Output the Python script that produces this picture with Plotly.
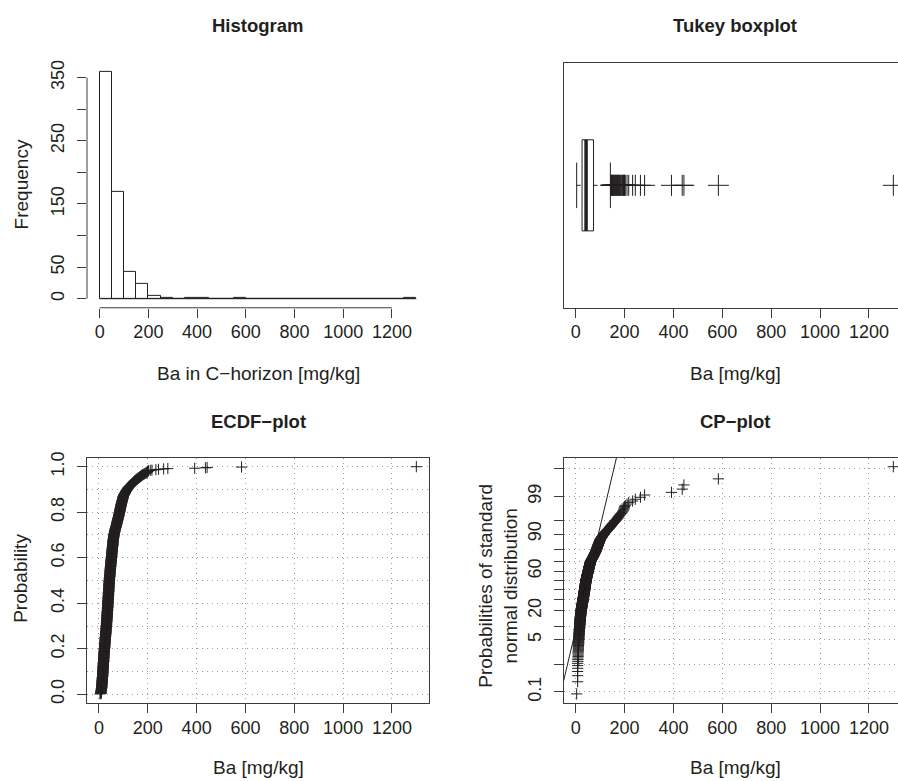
import numpy as np
import plotly.graph_objects as go
from statistics import NormalDist

# ---------------- data (Ba in C-horizon, mg/kg) ----------------
ba_levels = [4, 8, 9, 10,
             11, 12, 13, 14, 15, 16, 17, 18, 19, 20,
             21, 22, 23, 24, 25, 26, 27, 28, 29, 30,
             31, 32, 33, 34, 35, 36, 37, 38, 39, 40,
             41, 42, 43, 44, 45, 46, 47, 48, 49, 50,
             51, 52, 53, 54, 55, 56, 57, 58, 59, 60,
             61, 62, 63, 64, 65, 66, 67, 68, 69, 70,
             71, 72, 73, 74, 75, 76, 77, 78, 79, 80,
             81, 82, 83, 84, 85, 86, 87, 88, 89, 90,
             91, 92, 93, 94, 95, 96, 97, 98, 99, 100]
ba_counts = [1, 6, 3, 5,
             7, 8, 8, 8, 9, 10, 10, 10, 10, 10,
             8, 8, 8, 8, 8, 8, 7, 8, 7, 8,
             9, 9, 10, 9, 10, 10, 11, 10, 11, 11,
             10, 10, 8, 7, 7, 7, 7, 7, 7, 6,
             7, 7, 6, 7, 6, 6, 6, 6, 5, 5,
             4, 3, 3, 3, 3, 2, 3, 2, 2, 2,
             3, 3, 2, 3, 3, 2, 3, 2, 3, 2,
             3, 3, 3, 3, 3, 3, 3, 3, 3, 3,
             3, 2, 3, 2, 3, 2, 3, 2, 3, 2]
ba_tail = [101, 102, 103, 103, 104, 105, 106, 107, 108, 108, 109, 110, 111, 112, 113,
           114, 115, 116, 117, 118, 119, 120,
           121, 123, 124, 126, 127, 129, 130, 132, 133, 135, 136, 138, 139, 141, 142,
           144, 145, 147, 148, 150,
           152, 154, 156, 158, 160, 162, 164, 166, 168, 170, 172, 174, 176, 178, 180,
           183, 186, 189, 192, 194, 196, 198, 199, 200,
           203, 210, 217, 233, 244,
           265, 282,
           392, 436, 443, 584, 1300]

hist_break_width = 50
x_ticks = [0, 200, 400, 600, 800, 1000, 1200]
hist_y_ticks = [0, 50, 100, 150, 200, 250, 300, 350]
hist_y_labels = ["0", "50", "", "150", "", "250", "", "350"]
ecdf_y_ticks = [0.0, 0.2, 0.4, 0.6, 0.8, 1.0]
ecdf_y_labels = ["0.0", "0.2", "0.4", "0.6", "0.8", "1.0"]
ecdf_y_minor = [0.1, 0.3, 0.5, 0.7, 0.9]
cp_tick_pct = [0.1, 1, 5, 10, 20, 30, 40, 50, 60, 70, 80, 90, 95, 99, 99.9]
cp_tick_labels = ["0.1", "", "5", "", "20", "", "", "", "60", "", "", "90", "", "99", ""]
cp_line_center = 48.0
cp_line_scale = 35.0

# ---------------- derived ----------------
ba = np.sort(np.concatenate([np.repeat(ba_levels, ba_counts), ba_tail]).astype(float))
n = len(ba)
nd = NormalDist()

breaks = np.arange(0, ba.max() + hist_break_width, hist_break_width)
hist_counts = []
for i in range(len(breaks) - 1):
    lo, hi = breaks[i], breaks[i + 1]
    if i == 0:
        hist_counts.append(int(np.sum((ba >= lo) & (ba <= hi))))
    else:
        hist_counts.append(int(np.sum((ba > lo) & (ba <= hi))))
hist_counts = np.array(hist_counts)
centers = (breaks[:-1] + breaks[1:]) / 2

def ext(lo, hi, f=0.04):
    d = (hi - lo) * f
    return [lo - d, hi + d]

# fivenum (Tukey hinges)
n4 = np.floor((n + 3) / 2) / 2
dpos = [1, n4, (n + 1) / 2, n + 1 - n4, n]
fiv = [0.5 * (ba[int(np.floor(d)) - 1] + ba[int(np.ceil(d)) - 1]) for d in dpos]
q1, med, q3 = fiv[1], fiv[2], fiv[3]
iqr = q3 - q1
inside = ba[(ba >= q1 - 1.5 * iqr) & (ba <= q3 + 1.5 * iqr)]
wlo, whi = inside.min(), inside.max()
outl = ba[(ba < q1 - 1.5 * iqr) | (ba > q3 + 1.5 * iqr)]

ecdf_y = np.arange(1, n + 1) / n
pp = (np.arange(1, n + 1) - 0.5) / n
cp_q = np.array([nd.inv_cdf(p) for p in pp])
cp_tick_q = [nd.inv_cdf(p / 100) for p in cp_tick_pct]

# ---------------- layout geometry ----------------
W, H = 898, 781
def px(x):
    return x / W
def py(y):
    return 1 - y / H

ink = "#231f20"
axc = "#3c3c3c"
gridc = "#9a9a9a"
FONT = "Liberation Sans, Arial, Helvetica, sans-serif"
tickfont = dict(family=FONT, size=18, color=ink)

xr_data = ext(ba.min(), ba.max())
left_px, right_px_full = 564.0, 906.0
right_visible = W
xr_right = [xr_data[0], xr_data[0] + (right_visible - left_px) / (right_px_full - left_px) * (xr_data[1] - xr_data[0])]

fig = go.Figure()

# Histogram
fig.add_trace(go.Bar(x=centers, y=hist_counts, width=hist_break_width,
                     marker=dict(color="white", line=dict(color=ink, width=1)),
                     xaxis="x", yaxis="y", showlegend=False))
fig.add_trace(go.Scatter(x=[breaks[0], breaks[-1]], y=[0, 0], mode="lines",
                         line=dict(color=ink, width=1), xaxis="x", yaxis="y", showlegend=False))

# Boxplot
bw, cw = 0.186, 0.093
fig.add_trace(go.Scatter(x=[q1, q3, q3, q1, q1], y=[1 - bw, 1 - bw, 1 + bw, 1 + bw, 1 - bw],
                         mode="lines", line=dict(color=ink, width=1), xaxis="x2", yaxis="y2", showlegend=False))
fig.add_trace(go.Scatter(x=[med, med], y=[1 - bw, 1 + bw], mode="lines",
                         line=dict(color=ink, width=3.5), xaxis="x2", yaxis="y2", showlegend=False))
fig.add_trace(go.Scatter(x=[wlo, q1, None, q3, whi], y=[1, 1, None, 1, 1], mode="lines",
                         line=dict(color=ink, width=1, dash="4px,3px"), xaxis="x2", yaxis="y2", showlegend=False))
fig.add_trace(go.Scatter(x=[wlo, wlo, None, whi, whi], y=[1 - cw, 1 + cw, None, 1 - cw, 1 + cw], mode="lines",
                         line=dict(color=ink, width=1), xaxis="x2", yaxis="y2", showlegend=False))
fig.add_trace(go.Scatter(x=outl, y=np.ones(len(outl)), mode="markers",
                         marker=dict(symbol="cross-thin", size=15, line=dict(color=ink, width=1)),
                         xaxis="x2", yaxis="y2", showlegend=False))

# ECDF
fig.add_trace(go.Scatter(x=ba, y=ecdf_y, mode="markers",
                         marker=dict(symbol="cross-thin", size=8, line=dict(color=ink, width=1)),
                         xaxis="x3", yaxis="y3", showlegend=False))

# CP plot
qr = ext(cp_q.min(), cp_q.max())
lq = np.array([-5.0, 5.0])
fig.add_trace(go.Scatter(x=cp_line_center + lq * cp_line_scale, y=lq, mode="lines",
                         line=dict(color=ink, width=1), xaxis="x4", yaxis="y4", showlegend=False))
fig.add_trace(go.Scatter(x=ba, y=cp_q, mode="markers",
                         marker=dict(symbol="cross-thin", size=8, line=dict(color=ink, width=1)),
                         xaxis="x4", yaxis="y4", showlegend=False))

top_dom = [py(304.5), py(57.4)]
bot_dom = [py(703.3), py(455.7)]

common_x = dict(tickvals=x_ticks, ticktext=[str(v) for v in x_ticks], ticks="outside", ticklen=9,
                tickcolor=axc, tickfont=tickfont, zeroline=False, showgrid=False, ticklabelstandoff=-1)
common_y = dict(ticks="outside", ticklen=9, tickcolor=axc, tickfont=tickfont, zeroline=False,
                showgrid=False, tickangle=-90, ticklabelstandoff=6)
gridkw = dict(showgrid=True, gridcolor=gridc, griddash="1px,4px", gridwidth=1)

fig.update_layout(
    width=W, height=H, margin=dict(l=0, r=0, t=0, b=0),
    paper_bgcolor="white", plot_bgcolor="rgba(0,0,0,0)",
    bargap=0,
    xaxis=dict(domain=[px(87.0), px(429.0)], range=ext(breaks[0], breaks[-1]), anchor="y", showline=False, **common_x),
    yaxis=dict(domain=top_dom, range=ext(0, hist_counts.max()), anchor="x", showline=False,
               tickvals=hist_y_ticks, ticktext=hist_y_labels, **common_y),
    xaxis2=dict(domain=[px(left_px), 1.0], range=xr_right, anchor="y2", showline=True, mirror=True,
                linecolor=axc, linewidth=1, **common_x),
    yaxis2=dict(domain=top_dom, range=[0.5, 1.5], anchor="x2", showline=True, mirror=False, linecolor=axc,
                linewidth=1, showticklabels=False, ticks="", zeroline=False, showgrid=False),
    xaxis3=dict(domain=[px(87.3), px(429.0)], range=xr_data, anchor="y3", showline=True, mirror=True,
                linecolor=axc, linewidth=1, **{**common_x, **gridkw}),
    yaxis3=dict(domain=bot_dom, range=ext(ecdf_y.min(), ecdf_y.max()), anchor="x3", showline=True, mirror=True,
                linecolor=axc, linewidth=1, tickvals=ecdf_y_ticks, ticktext=ecdf_y_labels,
                minor=dict(tickvals=ecdf_y_minor, showgrid=True, gridcolor=gridc, griddash="1px,4px", ticks=""),
                **{**common_y, **gridkw}),
    xaxis4=dict(domain=[px(left_px), 1.0], range=xr_right, anchor="y4", showline=True, mirror=True,
                linecolor=axc, linewidth=1, **{**common_x, **gridkw}),
    yaxis4=dict(domain=bot_dom, range=qr, anchor="x4", showline=True, mirror=False,
                linecolor=axc, linewidth=1, tickvals=cp_tick_q, ticktext=cp_tick_labels,
                **{**common_y, **gridkw}),
)

# histogram axis lines spanning only the tick range
fig.add_shape(type="line", xref="x", yref="y domain", x0=min(x_ticks), x1=max(x_ticks), y0=0, y1=0,
              line=dict(color=axc, width=1))
fig.add_shape(type="line", xref="x domain", yref="y", x0=0, x1=0, y0=min(hist_y_ticks), y1=max(hist_y_ticks),
              line=dict(color=axc, width=1))

def ann(text, x, y, size=19, bold=False, angle=0):
    fig.add_annotation(text=("<b>%s</b>" % text) if bold else text, x=px(x), y=py(y), xref="paper", yref="paper",
                       showarrow=False, xanchor="center", yanchor="middle", textangle=angle,
                       font=dict(family=FONT, size=size, color=ink))

ann("Histogram", 258, 20, size=18.5, bold=True)
ann("Tukey boxplot", 735, 20, size=18.5, bold=True)
ann("ECDF\u2212plot", 258, 419, size=18.5, bold=True)
ann("CP\u2212plot", 735, 419, size=18.5, bold=True)
ann("Ba in C\u2212horizon [mg/kg]", 258, 371)
ann("Ba [mg/kg]", 735, 371)
ann("Ba [mg/kg]", 258, 768)
ann("Ba [mg/kg]", 735, 768)
ann("Frequency", 21, 180, angle=-90)
ann("Probability", 21, 578, angle=-90)
ann("Probabilities of standard<br>normal distribution", 498, 585, angle=-90)

fig.write_html("out.html")
